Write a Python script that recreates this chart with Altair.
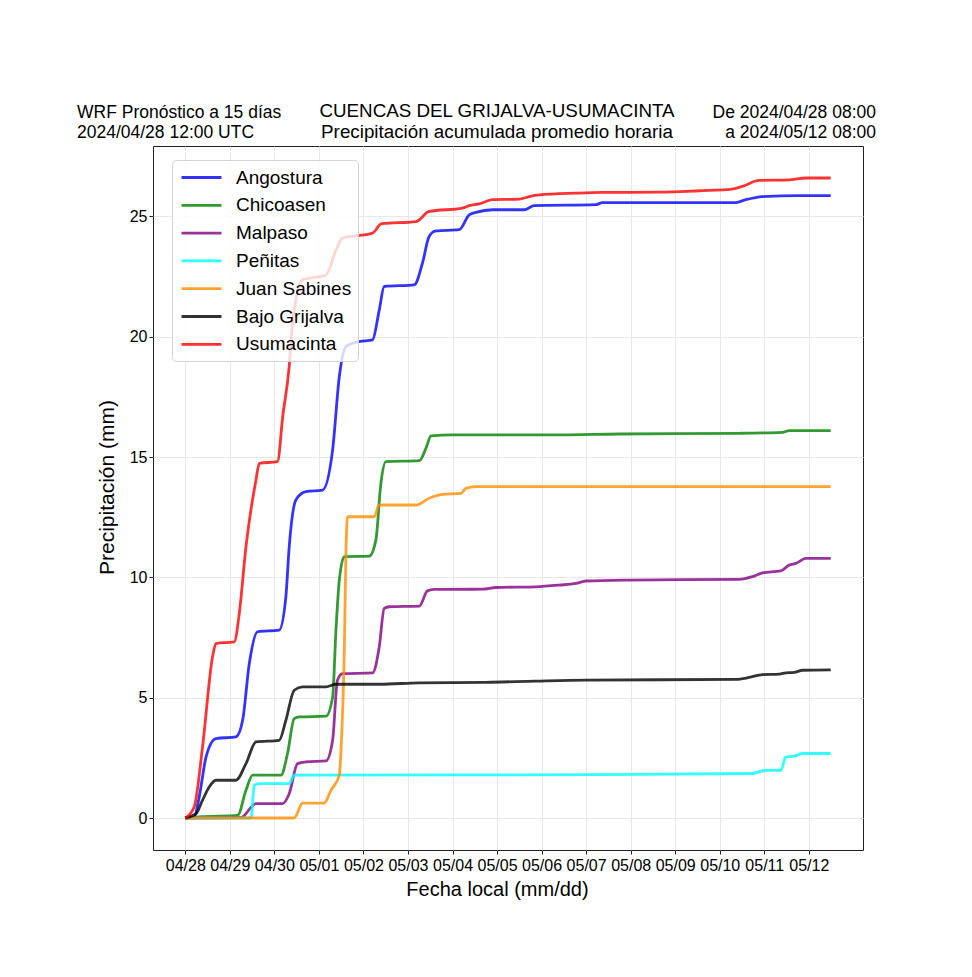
import altair as alt
import pandas as pd

series_names = ["Angostura", "Chicoasen", "Malpaso", "Peñitas", "Juan Sabines", "Bajo Grijalva", "Usumacinta"]
series_colors = ["#0000ff", "#008000", "#800080", "#00ffff", "#ff8c00", "#000000", "#ff0000"]
tick_labels = ["04/28", "04/29", "04/30", "05/01", "05/02", "05/03", "05/04", "05/05",
               "05/06", "05/07", "05/08", "05/09", "05/10", "05/11", "05/12"]

# hours since forecast start, accumulated precipitation (mm)
angostura_h = [0, 4.8, 7.5, 11.2, 16.5, 27.3, 30.9, 34.5, 38.9, 50.6, 54.2, 56.0, 59.6, 65.0, 74.0, 79.4, 83.0, 86.6,
               93.7, 100.9, 104.5, 107.2, 123.4, 127.8, 131.4, 135.1, 147.6, 153.0, 156.6, 165.5, 182.6, 188.0,
               221.2, 224.8, 296.7, 302.0, 311.0, 330.8, 347.8]
angostura_v = [0, 0.04, 0.87, 2.54, 3.3, 3.37, 4.06, 6.42, 7.74, 7.81, 9.19, 11.27, 13.22, 13.56, 13.63, 15.3, 18.34, 19.6,
               19.8, 19.87, 21.1, 22.09, 22.16, 23.06, 24.17, 24.4, 24.45, 25.07, 25.17, 25.28, 25.28, 25.45,
               25.49, 25.58, 25.58, 25.7, 25.83, 25.87, 25.87]

chicoasen_h = [0, 7.5, 28.2, 32.7, 36.3, 51.6, 55.1, 58.7, 61.4, 75.8, 79.4, 81.2, 83.0, 85.7, 99.1, 102.7, 105.4, 108.1,
               126.1, 129.7, 132.4, 144.0, 197.9, 233.8, 298.4, 321.8, 325.4, 347.8]
chicoasen_v = [0, 0.05, 0.11, 1.15, 1.78, 1.78, 2.68, 4.13, 4.2, 4.23, 5.03, 7.81, 9.89, 10.86, 10.88, 11.55, 13.91, 14.81,
               14.85, 15.37, 15.88, 15.92, 15.92, 15.96, 15.99, 16.03, 16.1, 16.1]

malpaso_h = [0, 30.0, 38.1, 52.4, 56.0, 60.5, 65.0, 75.8, 79.4, 82.0, 84.7, 100.9, 104.5, 107.2, 109.9, 126.1, 130.5, 134.1,
             160.2, 167.4, 188.9, 201.5, 210.5, 215.9, 239.2, 298.4, 305.6, 311.0, 320.9, 325.4, 329.0, 334.4, 347.8]
malpaso_v = [0, 0.02, 0.6, 0.6, 1.01, 2.26, 2.33, 2.37, 3.23, 5.73, 6.0, 6.03, 7.1, 8.71, 8.78, 8.81, 9.44, 9.5,
             9.51, 9.58, 9.61, 9.68, 9.75, 9.85, 9.89, 9.92, 10.03, 10.19, 10.27, 10.51, 10.58, 10.79, 10.79]

penitas_h = [0, 35.4, 37.2, 39.9, 56.0, 58.7, 224.6, 305.6, 312.8, 320.9, 323.6, 328.1, 332.6, 347.8]
penitas_v = [0, 0, 1.36, 1.43, 1.43, 1.78, 1.8, 1.85, 1.98, 1.98, 2.54, 2.57, 2.68, 2.68]

sabines_h = [0, 58.7, 63.2, 74.9, 78.5, 83.0, 83.9, 85.7, 86.6, 87.4, 101.8, 104.5, 124.4, 131.4, 138.6, 148.5, 151.2,
             156.6, 347.8]
sabines_v = [0, 0, 0.62, 0.62, 1.15, 1.78, 2.8, 6.98, 11.1, 12.52, 12.52, 13.01, 13.01, 13.29, 13.45, 13.49, 13.7,
             13.77, 13.77]

bajo_h = [0, 5.8, 9.3, 12.9, 16.5, 27.3, 32.7, 38.1, 50.6, 54.2, 58.7, 63.2, 75.8, 81.2, 104.5, 126.1, 162.0, 188.9,
          215.9, 296.7, 303.8, 311.0, 320.0, 323.6, 328.1, 332.6, 347.8]
bajo_v = [0, 0.18, 0.74, 1.29, 1.57, 1.57, 2.26, 3.16, 3.23, 4.06, 5.31, 5.45, 5.45, 5.56, 5.56, 5.62, 5.64, 5.69,
          5.73, 5.76, 5.84, 5.96, 5.98, 6.03, 6.05, 6.14, 6.16]

usuma_h = [0, 4.8, 9.3, 14.7, 16.5, 26.4, 29.1, 32.7, 38.1, 39.9, 49.7, 52.5, 56.0, 57.8, 59.6, 63.2, 75.8, 81.2, 84.7,
           100.9, 105.8, 124.4, 131.4, 149.4, 153.0, 158.4, 165.5, 179.9, 185.3, 190.7, 210.5, 224.8, 255.3, 276.9,
           294.8, 300.2, 309.2, 325.4, 334.4, 347.8]
usuma_v = [0, 0.46, 2.95, 6.7, 7.25, 7.32, 8.5, 11.27, 14.05, 14.74, 14.81, 16.68, 18.76, 20.57, 21.54, 22.37, 22.57, 23.6,
           24.1, 24.31, 24.7, 24.79, 25.21, 25.35, 25.45, 25.52, 25.7, 25.72, 25.83, 25.9, 25.97, 26.0, 26.01, 26.07,
           26.14, 26.25, 26.5, 26.52, 26.6, 26.6]

all_h = [angostura_h, chicoasen_h, malpaso_h, penitas_h, sabines_h, bajo_h, usuma_h]
all_v = [angostura_v, chicoasen_v, malpaso_v, penitas_v, sabines_v, bajo_v, usuma_v]

rows = []
for name, hs, vs in zip(series_names, all_h, all_v):
    for i, (h, v) in enumerate(zip(hs, vs)):
        rows.append({"serie": name, "hora": h, "pp": v, "idx": i})
df = pd.DataFrame(rows)

FONT = "Liberation Sans"
label_expr = "[" + ",".join("'%s'" % t for t in tick_labels) + "][round(datum.value/24)]"

lines = alt.Chart(df).mark_line(strokeWidth=2.8, opacity=0.8, interpolate="monotone").encode(
    x=alt.X("hora:Q",
            scale=alt.Scale(domain=[-17.39, 365.19], nice=False, zero=False),
            axis=alt.Axis(values=[24 * i for i in range(len(tick_labels))], labelExpr=label_expr,
                          title="Fecha local (mm/dd)", titleFontSize=20, titleFontWeight="normal",
                          titleX=344, titleY=45, titleBaseline="alphabetic",
                          labelFontSize=16, tickSize=4, labelPadding=3, labelFlush=False, labelOverlap=False)),
    y=alt.Y("pp:Q",
            scale=alt.Scale(domain=[-1.33, 27.93], nice=False, zero=False),
            axis=alt.Axis(values=[0, 5, 10, 15, 20, 25], title="Precipitación (mm)", titleFontSize=21,
                          titleFontWeight="normal", titleX=-40, titleY=341, titleBaseline="alphabetic",
                          labelFontSize=16, tickSize=4, labelPadding=2)),
    color=alt.Color("serie:N", sort=series_names,
                    scale=alt.Scale(domain=series_names, range=series_colors),
                    legend=alt.Legend(title=None, orient="none", legendX=19, legendY=14,
                                      symbolType="M-0.8,0H3.2", symbolSize=400, symbolStrokeWidth=2.8,
                                      symbolOpacity=0.8, labelFontSize=19, labelOffset=35,
                                      rowPadding=5.8, padding=6, fillColor="rgba(255,255,255,0.8)",
                                      strokeColor="#d4d4d4", cornerRadius=4)),
    order="idx:Q",
)

blank = alt.Data(values=[{}])


def header(text, x, y, align, size):
    return alt.Chart(blank).mark_text(
        text=text, align=align, baseline="alphabetic", fontSize=size, font=FONT, color="black"
    ).encode(x=alt.value(x), y=alt.value(y))


headers = [
    header("WRF Pronóstico a 15 días", -76, -28, "left", 17.5),
    header("2024/04/28 12:00 UTC", -76, -8.5, "left", 17.5),
    header("CUENCAS DEL GRIJALVA-USUMACINTA", 344, -29.5, "center", 18.8),
    header("Precipitación acumulada promedio horaria", 344, -8.5, "center", 18.8),
    header("De 2024/04/28 08:00", 723, -28, "right", 17.5),
    header("a 2024/05/12 08:00", 723, -8.5, "right", 17.5),
]

chart = alt.layer(lines, *headers).properties(
    width=710, height=704,
    autosize=alt.AutoSizeParams(type="none"),
    padding={"left": 145, "top": 138, "right": 95, "bottom": 110},
    background="white",
).configure_view(stroke="#222222", strokeWidth=1).configure_axis(
    domain=False, grid=True, gridColor="#e8e8e8", gridWidth=1, tickColor="#222222",
    labelFont=FONT, titleFont=FONT, labelColor="black", titleColor="black"
).configure_legend(labelFont=FONT, labelColor="black")

chart.save("out.html", embed_options={"renderer": "svg", "actions": False})
